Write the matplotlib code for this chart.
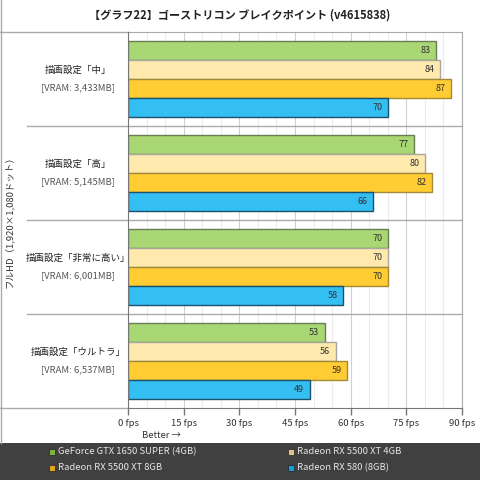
import matplotlib
matplotlib.use("Agg")
import matplotlib.pyplot as plt
import numpy as np

plt.rcParams['font.family'] = ['Noto Sans CJK JP', 'DejaVu Sans']

title = "【グラフ22】ゴーストリコン ブレイクポイント (v4615838)"
ylabel = "フルHD（1,920×1,080ドット）"
settings = ["描画設定「中」", "描画設定「高」", "描画設定「非常に高い」", "描画設定「ウルトラ」"]
vram = ["[VRAM: 3,433MB]", "[VRAM: 5,145MB]", "[VRAM: 6,001MB]", "[VRAM: 6,537MB]"]
series = ["GeForce GTX 1650 SUPER (4GB)", "Radeon RX 5500 XT 4GB",
          "Radeon RX 5500 XT 8GB", "Radeon RX 580 (8GB)"]
gtx1650s = [83, 77, 70, 53]
rx5500_4 = [84, 80, 70, 56]
rx5500_8 = [87, 82, 70, 59]
rx580 = [70, 66, 58, 49]
ticks = [0, 15, 30, 45, 60, 75, 90]

values = [gtx1650s, rx5500_4, rx5500_8, rx580]
faces = ["#a9d774", "#ffe9ad", "#ffcc33", "#33bff1"]
edges = ["#6b7d55", "#a8a8a0", "#a58a35", "#1d4f6e"]
legend_cols = ["#7fb23e", "#d9c48c", "#e0a81a", "#1a9bd6"]

fig = plt.figure(figsize=(4.8, 4.8), dpi=100)
fig.patch.set_facecolor("white")
ax = fig.add_axes([128/480, 1-408/480, 334/480, 376/480])

y = np.arange(len(settings))
h = 0.2
for i, (vals, fc, ec) in enumerate(zip(values, faces, edges)):
    pos = y - 0.3 + i*h
    ax.barh(pos, vals, height=h, color=fc, edgecolor=ec, linewidth=1.0, zorder=3)
    for p, v in zip(pos, vals):
        ax.text(v - 1.5, p, str(v), ha="right", va="center", fontsize=6.5,
                color="#333333", zorder=4)

ax.set_xlim(0, 90)
ax.set_ylim(3.5, -0.5)
ax.set_xticks(ticks)
ax.set_xticklabels([f"{t} fps" for t in ticks], fontsize=6.8, color="#333333")
ax.set_xticks(np.arange(0, 91, 5), minor=True)
ax.tick_params(axis="x", which="major", length=5, width=1, color="#777777", pad=3)
ax.tick_params(axis="x", which="minor", length=0)
ax.set_yticks([])
ax.grid(axis="x", which="minor", color="#ececec", linewidth=0.8, zorder=0)
ax.grid(axis="x", which="major", color="#d0d0d0", linewidth=0.8, zorder=1)
for s in ["top", "right"]:
    ax.spines[s].set_color("#aaaaaa")
ax.spines["left"].set_color("#777777")
ax.spines["bottom"].set_color("#777777")
ax.spines["left"].set_zorder(5)

# separators between groups, extending into the label area
for k in range(1, len(settings)):
    ax.plot([-101/334*90, 90], [k - 0.5, k - 0.5], color="#aaaaaa", lw=1,
            clip_on=False, zorder=2)
ax.plot([-128/334*90, 0], [-0.5, -0.5], color="#aaaaaa", lw=1, clip_on=False)
ax.plot([-128/334*90, 0], [3.5, 3.5], color="#aaaaaa", lw=1, clip_on=False)

# group labels
for k in range(len(settings)):
    yc = 1 - (32 + 94*k + 47)/480
    fig.text(78/480, yc + 9/480, settings[k], ha="center", va="center",
             fontsize=6.8, color="#222222")
    fig.text(78/480, yc - 9/480, vram[k], ha="center", va="center",
             fontsize=6.8, color="#555555")

fig.text(9/480, 1 - 220/480, ylabel, rotation=90, ha="center", va="center",
         fontsize=6.8, color="#333333")
fig.text(240/480, 1 - 15/480, title, ha="center", va="center", fontsize=8,
         fontweight="bold", color="#222222")
fig.text(162/480, 1 - 435/480, "Better →", ha="center", va="center",
         fontsize=6.8, color="#333333")

# left border
fig.add_artist(plt.Line2D([0.5/480, 0.5/480], [1 - 443/480, 1], color="#aaaaaa",
                          lw=1, transform=fig.transFigure))

# legend band
band = fig.add_axes([0, 0, 1, 37/480])
band.set_xlim(0, 480)
band.set_ylim(37, 0)
band.set_facecolor("#404040")
band.set_xticks([])
band.set_yticks([])
for s in band.spines.values():
    s.set_visible(False)
lx = [51, 290, 51, 290]
ly = [9, 9, 25, 25]
order = [0, 1, 2, 3]
for i in order:
    band.add_patch(plt.Rectangle((lx[i] - 2.5, ly[i] - 3), 6, 6,
                                 facecolor=legend_cols[i], edgecolor="#222222", lw=0.5))
    band.text(lx[i] + 7, ly[i], series[i], ha="left", va="center", fontsize=6.8,
              color="#e6e6e6")

fig.savefig("out.png", dpi=100)
